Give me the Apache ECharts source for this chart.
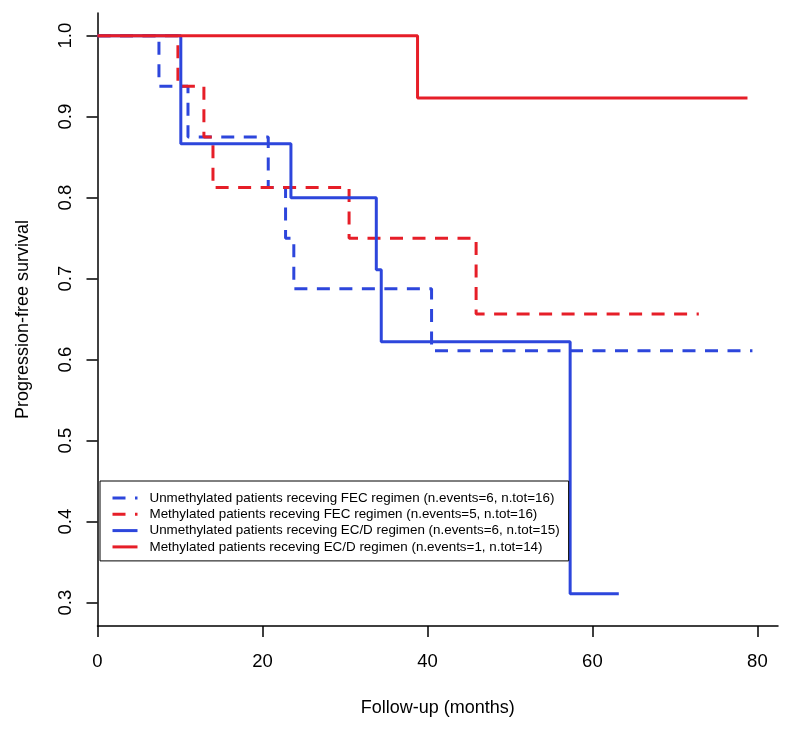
<!DOCTYPE html>
<html>
<head>
<meta charset="utf-8">
<script src="https://cdn.jsdelivr.net/npm/echarts@6/dist/echarts.min.js"></script>
<style>
  html, body { margin: 0; padding: 0; background: #fff; }
  #chart { width: 792px; height: 733px; }
</style>
</head>
<body>
<div id="chart"></div>
<script>
// Kaplan-Meier steps: times (months) and survival right after each time
const unmethFecTimes = [0, 7.45, 10.97, 20.7, 22.8, 23.8, 40.5, 79.4];
const unmethFecSurv = [1, 0.9375, 0.875, 0.8125, 0.75, 0.6875, 0.6111, 0.6111];

const methFecTimes = [0, 9.75, 12.9, 14.0, 30.5, 45.9, 72.9];
const methFecSurv = [1, 0.9375, 0.875, 0.8125, 0.75, 0.6563, 0.6563];

const unmethEcdTimes = [0, 10.1, 23.45, 33.8, 34.4, 57.3, 63.2];
const unmethEcdSurv = [1, 0.8667, 0.8, 0.7111, 0.6222, 0.3111, 0.3111];

const methEcdTimes = [0, 38.8, 78.8];
const methEcdSurv = [1, 0.9231, 0.9231];

const seriesNames = [
  "Unmethylated patients receving FEC regimen (n.events=6, n.tot=16)",
  "Methylated patients receving FEC regimen (n.events=5, n.tot=16)",
  "Unmethylated patients receving EC/D regimen (n.events=6, n.tot=15)",
  "Methylated patients receving EC/D regimen (n.events=1, n.tot=14)"
];

const xTicks = [0, 20, 40, 60, 80];
const yTicks = [0.3, 0.4, 0.5, 0.6, 0.7, 0.8, 0.9, 1.0];

const RED = "#e61e28";
const BLUE = "#2d46dc";
const FONT = "'Liberation Sans', Arial, Helvetica, sans-serif";
const DASH = [13, 9.5];

function pairs(times, surv) {
  return times.map((t, i) => [t, surv[i]]);
}

function kmSeries(name, times, surv, color, dashed) {
  return {
    name,
    type: "line",
    step: "end",
    symbol: "none",
    silent: true,
    animation: false,
    lineStyle: { color, width: 3, type: dashed ? DASH : "solid", cap: "butt" },
    itemStyle: { color },
    data: pairs(times, surv)
  };
}

const chart = echarts.init(document.getElementById("chart"), null, { renderer: "canvas" });

chart.setOption({
  backgroundColor: "#fff",
  animation: false,
  grid: { left: 97.5, right: 14, top: 13, bottom: 107, containLabel: false },
  legend: {
    left: 100,
    top: 481,
    orient: "vertical",
    data: seriesNames,
    itemWidth: 25,
    itemHeight: 14,
    itemGap: 2.3,
    padding: [10, 9, 7, 11],
    borderColor: "#000",
    borderWidth: 1,
    borderRadius: 0,
    backgroundColor: "#fff",
    selectedMode: false,
    itemStyle: { color: "transparent", borderWidth: 0, opacity: 0 },
    lineStyle: { width: 3 },
    textStyle: {
      color: "#000",
      fontFamily: FONT,
      fontSize: 13.4,
      lineHeight: 14,
      padding: [0, 0, 0, 7]
    }
  },
  xAxis: {
    type: "value",
    min: 0,
    max: 82.5,
    name: "Follow-up (months)",
    nameLocation: "middle",
    nameGap: 73,
    nameTextStyle: { color: "#000", fontFamily: FONT, fontSize: 18 },
    axisLine: { show: true, lineStyle: { color: "#000", width: 1.5 } },
    axisTick: { show: true, length: 11, customValues: xTicks, lineStyle: { color: "#000", width: 1.5 } },
    axisLabel: { customValues: xTicks, margin: 26, color: "#000", fontFamily: FONT, fontSize: 18.5 },
    splitLine: { show: false }
  },
  yAxis: {
    type: "value",
    min: 0.2712,
    max: 1.028,
    name: "Progression-free survival",
    nameLocation: "middle",
    nameGap: 65,
    nameTextStyle: { color: "#000", fontFamily: FONT, fontSize: 18 },
    axisLine: { show: true, lineStyle: { color: "#000", width: 1.5 } },
    axisTick: { show: true, length: 11, customValues: yTicks, lineStyle: { color: "#000", width: 1.5 } },
    axisLabel: {
      customValues: yTicks,
      rotate: 90,
      margin: 22,
      color: "#000",
      fontFamily: FONT,
      fontSize: 18.5,
      formatter: (v) => v.toFixed(1)
    },
    splitLine: { show: false }
  },
  series: [
    kmSeries(seriesNames[0], unmethFecTimes, unmethFecSurv, BLUE, true),
    kmSeries(seriesNames[1], methFecTimes, methFecSurv, RED, true),
    kmSeries(seriesNames[2], unmethEcdTimes, unmethEcdSurv, BLUE, false),
    kmSeries(seriesNames[3], methEcdTimes, methEcdSurv, RED, false)
  ]
});
</script>
</body>
</html>
